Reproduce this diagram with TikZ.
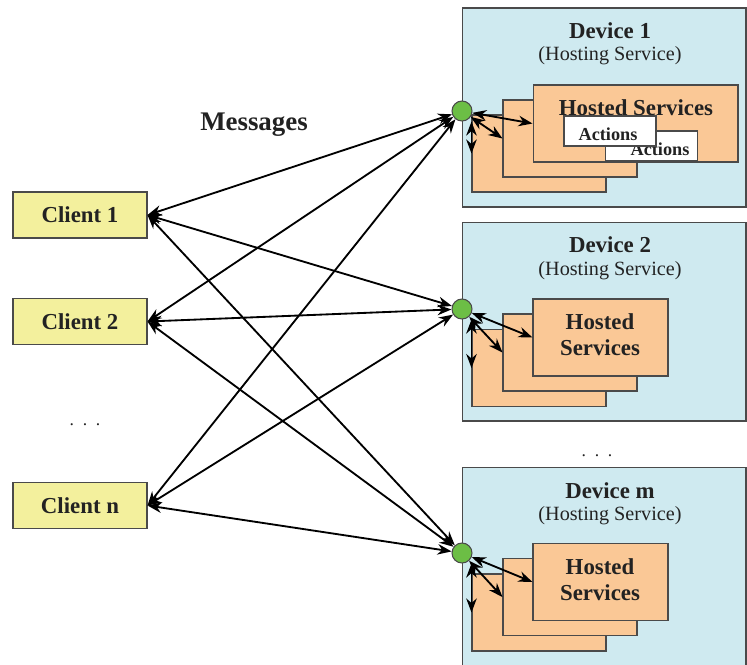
\documentclass[tikz,border=0pt]{standalone}
\usepackage{fontspec}
\setmainfont{Liberation Serif}
\usetikzlibrary{arrows.meta,calc}
\definecolor{devbg}{HTML}{CFEAF0}
\definecolor{svcbg}{HTML}{FAC896}
\definecolor{clibg}{HTML}{F3F09D}
\definecolor{dotgreen}{HTML}{6CBE45}
\definecolor{edge}{HTML}{4A4A4A}
\definecolor{ink}{HTML}{222222}
\begin{document}
\begin{tikzpicture}[x=0.02cm,y=-0.02cm,
  clientbox/.style={draw=edge,line width=0.6pt,fill=clibg,minimum width=2.68cm,minimum height=0.92cm,inner sep=0pt,text=ink,font=\bfseries\fontsize{13}{15}\selectfont},
  devbox/.style={draw=edge,line width=0.6pt,fill=devbg,minimum width=5.68cm,minimum height=3.98cm,inner sep=0pt},
  svcbox/.style={draw=edge,line width=0.6pt,fill=svcbg,minimum width=2.68cm,minimum height=1.54cm,inner sep=0pt},
  actbox/.style={draw=edge,line width=0.6pt,fill=white,minimum width=1.84cm,minimum height=0.6cm,inner sep=0pt},
  hub/.style={circle,draw=edge,line width=0.6pt,fill=dotgreen,minimum size=0.4cm,inner sep=0pt},
  devtitle/.style={text=ink,font=\bfseries\fontsize{13}{15}\selectfont},
  devsub/.style={text=ink,font=\fontsize{11.5}{13}\selectfont},
  svctext/.style={text=ink,font=\bfseries\fontsize{13}{14.7}\selectfont,align=center},
  acttext/.style={text=ink,font=\bfseries\fontsize{10.4}{12}\selectfont},
  conn/.style={draw=black,line width=1.05pt,{Stealth[length=8pt,width=6pt]}-{Stealth[length=8pt,width=6pt]}},
  dots/.style={text=ink,font=\fontsize{10}{12}\selectfont}
]
\useasboundingbox (0,0) rectangle (747,664);

% devices
\node[devbox] (d1) at (604,107.5) {};
\node[devbox] (d2) at (604,321.5) {};
\node[devbox] (d3) at (604,566.5) {};

\node[devtitle] (d1t) at (610,31) {Device 1};
\node[devsub] (d1s) at (610,56) {(Hosting Service)};
\node[devtitle] (d2t) at (610,245) {Device 2};
\node[devsub] (d2s) at (610,271) {(Hosting Service)};
\node[devtitle] (d3t) at (610,491) {Device m};
\node[devsub] (d3s) at (610,516) {(Hosting Service)};

% service stacks
\node[svcbox] (b1) at (539,153.5) {};
\node[svcbox] (m1) at (570,138.5) {};
\node[svcbox,minimum width=4.1cm] (f1) at (635.5,123.5) {};
\node[svctext] (f1t) at (636,108) {Hosted Services};
\node[actbox] (a2) at (651.5,146) {};
\node[acttext] (a2t) at (660,149) {Actions};
\node[actbox] (a1) at (610,131) {};
\node[acttext] (a1t) at (608,134) {Actions};

\node[svcbox] (b2) at (539,368) {};
\node[svcbox] (m2) at (570,352.5) {};
\node[svcbox,minimum width=2.7cm] (f2) at (600.5,337.5) {};
\node[svctext] (f2t) at (600,335) {Hosted\\Services};

\node[svcbox] (b3) at (539,612.5) {};
\node[svcbox] (m3) at (570,597) {};
\node[svcbox,minimum width=2.7cm] (f3) at (600.5,582) {};
\node[svctext] (f3t) at (600,580) {Hosted\\Services};

% clients
\node[clientbox] (c1) at (80,215) {Client 1};
\node[clientbox] (c2) at (80,321.5) {Client 2};
\node[clientbox] (c3) at (80,505.5) {Client n};

\node[dots] (dl) at (85,425) {.\hspace{0.5em}.\hspace{0.5em}.};
\node[dots] (dr) at (597,456) {.\hspace{0.5em}.\hspace{0.5em}.};
\node[text=ink,font=\bfseries\fontsize{15.3}{17}\selectfont] (msg) at (254,125) {Messages};

% hubs
\node[hub] (g1) at (462,111) {};
\node[hub] (g2) at (462,309) {};
\node[hub] (g3) at (462,553) {};

% client-device connectors
\foreach \c in {c1,c2,c3}{
  \foreach \g in {g1,g2,g3}{
    \draw[conn] (\c.east) -- (\g);
  }
}

% internal connectors
\foreach \i in {1,2,3}{
  \draw[conn] (g\i) -- (f\i.west);
  \draw[conn] (g\i) -- (m\i.west);
  \draw[conn] (b\i.west |- g\i.south) -- (b\i.west);
}
\end{tikzpicture}
\end{document}
